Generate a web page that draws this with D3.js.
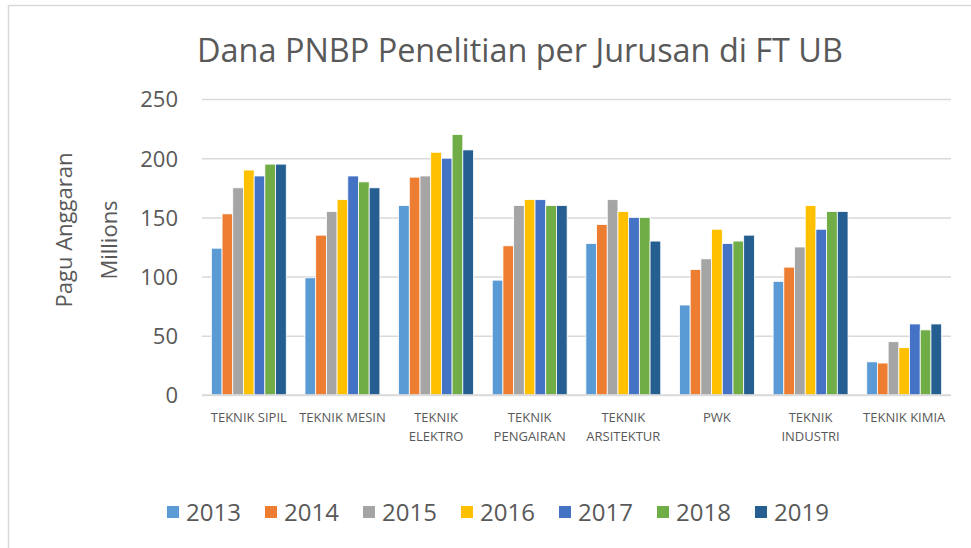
<!DOCTYPE html>
<html>
<head>
<meta charset="utf-8">
<script src="https://cdn.jsdelivr.net/npm/d3@7"></script>
<style>
  body { margin: 0; background: #fff; }
  svg { display: block; font-family: "Open Sans", sans-serif; }
</style>
</head>
<body>
<svg id="chart" width="971" height="548"></svg>
<script>
(function() {

  var categories = ['TEKNIK SIPIL', 'TEKNIK MESIN', 'TEKNIK ELEKTRO', 'TEKNIK PENGAIRAN',
                    'TEKNIK ARSITEKTUR', 'PWK', 'TEKNIK INDUSTRI', 'TEKNIK KIMIA'];
  // how excel wrapped the axis labels
  var categoryLines = [['TEKNIK SIPIL'], ['TEKNIK MESIN'], ['TEKNIK', 'ELEKTRO'], ['TEKNIK', 'PENGAIRAN'],
                       ['TEKNIK', 'ARSITEKTUR'], ['PWK'], ['TEKNIK', 'INDUSTRI'], ['TEKNIK KIMIA']];
  var years = ['2013', '2014', '2015', '2016', '2017', '2018', '2019'];

  // millions of rupiah, one array per year in category order
  var v2013 = [124, 99, 160, 97, 128, 76, 96, 28];
  var v2014 = [153, 135, 184, 126, 144, 106, 108, 27];
  var v2015 = [175, 155, 185, 160, 165, 115, 125, 45];
  var v2016 = [190, 165, 205, 165, 155, 140, 160, 40];
  var v2017 = [185, 185, 200, 165, 150, 128, 140, 60];
  var v2018 = [195, 180, 220, 160, 150, 130, 155, 55];
  var v2019 = [195, 175, 207, 160, 130, 135, 155, 60];
  var series = [v2013, v2014, v2015, v2016, v2017, v2018, v2019];

  var yTicks = [0, 50, 100, 150, 200, 250];
  var colors = ['#5B9BD5', '#ED7D31', '#A5A5A5', '#FFC000', '#4472C4', '#70AD47', '#255E91'];

  var textColor = '#595959',
      gridColor = '#d9d9d9';

  var plot = {left: 202, right: 951, top: 99, bottom: 395};

  var svg = d3.select('#chart');

  // chart area frame, cut off on the right and bottom
  svg.append('rect')
      .attr('x', 8.5)
      .attr('y', 5.5)
      .attr('width', 1100)
      .attr('height', 700)
      .attr('fill', 'none')
      .attr('stroke', gridColor)
      .attr('stroke-width', 1.5);

  function fitText(sel, target) {
    var w = sel.node().getComputedTextLength();
    var fs = parseFloat(sel.attr('font-size'));
    sel.attr('font-size', fs * target / w);
  }

  var title = svg.append('text')
      .attr('x', 520)
      .attr('y', 62)
      .attr('text-anchor', 'middle')
      .attr('font-size', 30)
      .attr('fill', textColor)
      .text('Dana PNBP Penelitian per Jurusan di FT UB');
  fitText(title, 646);

  var x0 = d3.scaleBand()
      .domain(categories)
      .range([plot.left, plot.right])
      .paddingInner(0.2)
      .paddingOuter(0.1);

  var x1 = d3.scaleBand()
      .domain(years)
      .range([0, x0.bandwidth()]);

  var y = d3.scaleLinear()
      .domain([0, 250])
      .range([plot.bottom, plot.top]);

  // gridlines + tick labels
  var yAxis = d3.axisLeft(y)
      .tickValues(yTicks)
      .tickSize(-(plot.right - plot.left))
      .tickPadding(24);

  var gy = svg.append('g')
      .attr('transform', 'translate(' + plot.left + ',0)')
      .call(yAxis);
  gy.select('.domain').remove();
  gy.selectAll('.tick line')
      .attr('stroke', gridColor)
      .attr('stroke-width', 1.5);
  gy.selectAll('.tick text')
      .attr('fill', textColor)
      .attr('font-size', 22)
      .attr('font-family', '"Open Sans", sans-serif')
      .attr('dy', '0.36em');

  // bars
  var groups = svg.append('g').selectAll('g')
      .data(series)
      .join('g')
      .attr('fill', function(d, i) { return colors[i]; });

  groups.selectAll('rect')
      .data(function(d, i) {
        return d.map(function(v, c) { return {year: years[i], cat: categories[c], value: v}; });
      })
      .join('rect')
      .attr('x', function(d) { return x0(d.cat) + x1(d.year); })
      .attr('y', function(d) { return y(d.value); })
      .attr('width', x1.bandwidth())
      .attr('height', function(d) { return y(0) - y(d.value); })
      .attr('stroke', '#fff')
      .attr('stroke-width', 0.8);

  // baseline over the bars
  svg.append('line')
      .attr('x1', plot.left)
      .attr('x2', plot.right)
      .attr('y1', y(0))
      .attr('y2', y(0))
      .attr('stroke', gridColor)
      .attr('stroke-width', 1.5);

  // category labels
  var cats = svg.append('g').selectAll('text')
      .data(categories)
      .join('text')
      .attr('x', function(d) { return x0(d) + x0.bandwidth() / 2; })
      .attr('y', 422)
      .attr('text-anchor', 'middle')
      .attr('font-size', 13)
      .attr('fill', textColor);

  cats.selectAll('tspan')
      .data(function(d, i) { return categoryLines[i]; })
      .join('tspan')
      .attr('x', function() { return this.parentNode.getAttribute('x'); })
      .attr('dy', function(d, i) { return i ? 19 : 0; })
      .text(function(d) { return d; });

  // axis titles
  svg.append('text')
      .attr('transform', 'translate(72,230) rotate(-90)')
      .attr('text-anchor', 'middle')
      .attr('font-size', 22)
      .attr('fill', textColor)
      .text('Pagu Anggaran');

  svg.append('text')
      .attr('transform', 'translate(117,240) rotate(-90)')
      .attr('text-anchor', 'middle')
      .attr('font-size', 22)
      .attr('fill', textColor)
      .text('Millions');

  // legend
  var legend = svg.append('g').selectAll('g')
      .data(years)
      .join('g')
      .attr('transform', function(d, i) { return 'translate(' + (167 + i * 98) + ',506)'; });

  legend.append('rect')
      .attr('width', 12)
      .attr('height', 12)
      .attr('fill', function(d, i) { return colors[i]; });

  legend.append('text')
      .attr('x', 19)
      .attr('y', 14.5)
      .attr('font-size', 24)
      .attr('fill', textColor)
      .text(function(d) { return d; });

})();
</script>
</body>
</html>
